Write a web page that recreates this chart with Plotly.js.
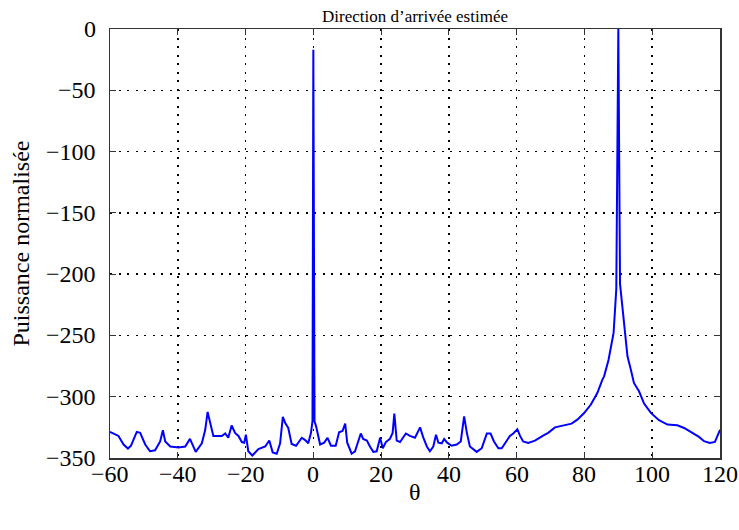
<!DOCTYPE html>
<html>
<head>
<meta charset="utf-8">
<script src="https://cdn.plot.ly/plotly-3.0.1.min.js"></script>
<style>
html,body{margin:0;padding:0;background:#fff;}
#chart{width:739px;height:530px;}
</style>
</head>
<body>
<div id="chart"></div>
<script>
// Angle (degrees)
const theta = [
  -60, -57.5, -56.0, -54.7, -53.8, -52.1, -51.1, -49.6, -48.2, -46.7,
  -45.2, -44.4, -43.7, -42.2, -39.8, -37.8, -36.4, -34.7, -32.9, -31.9,
  -31.2, -30.5, -29.5, -27.0, -26.0, -25.1, -24.1, -23.1, -22.1, -21.1,
  -20.4, -19.9, -19.2, -18.0, -16.2, -14.2, -13.0, -12.0, -10.8, -9.8,
  -9.0, -8.3, -7.4, -6.4, -5.1, -3.4, -2.4, -1.5, -0.7, -0.25,
  0, 0.35, 0.8, 2.0, 3.2, 4.2, 5.2, 6.6, 7.6, 8.6,
  9.4, 10.0, 11.3, 12.3, 13.1, 14.0, 14.7, 15.8, 16.7, 17.7,
  18.7, 19.7, 20.5, 21.4, 22.6, 23.4, 23.9, 24.6, 25.6, 27.3,
  28.5, 30.0, 31.5, 32.4, 33.5, 34.4, 35.4, 36.2, 36.9, 37.9,
  38.6, 39.5, 40.8, 42.3, 43.5, 44.5, 45.3, 46.2, 48.2, 49.7,
  51.2, 52.3, 53.3, 54.6, 55.6, 56.8, 58.0, 59.0, 60.2, 61.0,
  61.9, 63.4, 65.4, 67.8, 69.3, 71.3, 73.7, 76.2, 77.9, 79.9,
  81.9, 83.8, 85.3, 85.8, 87.1, 88.6, 89.4, 90, 90.5, 91.4,
  92.0, 92.7, 93.7, 94.6, 96.1, 97.6, 99.6, 102.0, 104.5, 107.4,
  109.4, 111.4, 113.8, 115.3, 117.0, 118.5, 119.5, 120
];
// Normalised power (dB)
const puissance = [
  -328.7, -332, -339, -342.3, -340, -328.7, -329.5, -339, -344.5, -343.7,
  -336.5, -327.4, -336.5, -340.6, -341.4, -340.6, -334.4, -345, -338, -327,
  -312.4, -320, -332, -332, -330, -333.5, -323.5, -329.5, -332, -337,
  -337.5, -331, -344.5, -348, -342.8, -340.6, -335.7, -345.4, -346.5, -338,
  -316.5, -321.4, -325.5, -338.6, -340, -333.5, -335.4, -338, -329.5, -320,
  -17, -320, -324, -339, -337.5, -333.5, -340, -340, -329, -328,
  -322, -337.5, -346.5, -344.5, -337.5, -330, -334.5, -335.7, -340.6, -345,
  -344.5, -333.5, -342, -337, -334.4, -329.5, -313.8, -335.7, -337, -330,
  -332, -333.5, -325, -333, -340.6, -344.5, -340.6, -331, -337.5, -338,
  -334.5, -337.5, -340, -339, -336.5, -316, -329.5, -340.6, -345, -342,
  -330, -330, -336.5, -342, -342, -337.5, -332, -330, -326.5, -332,
  -336.5, -337.7, -335.8, -331.7, -329.5, -325, -323.3, -322, -318.7, -313.3,
  -306.4, -297, -286, -283.4, -270, -248, -212, 0, -208, -234.5,
  -250.8, -267, -278, -288.8, -295.6, -305.6, -313.2, -319.2, -322.7, -323.3,
  -325.5, -329, -332.8, -336.3, -337.7, -336.9, -331, -327
];
const xTicks = [-60, -40, -20, 0, 20, 40, 60, 80, 100, 120];
const yTicks = [-350, -300, -250, -200, -150, -100, -50, 0];
const titleText = "Direction d\u2019arrivée estimée";
const xTitle = "θ";
const yTitle = "Puissance normalisée";

const serif = "'Liberation Serif', 'Times New Roman', serif";
const tickFont = {family: serif, size: 24, color: '#000'};
const fmt = v => (v < 0 ? '\u2212' + Math.abs(v) : String(v));

const axisCommon = {
  showgrid: true,
  gridcolor: '#000',
  gridwidth: 1.5,
  griddash: '2px,6.5px',
  zeroline: false,
  showline: true,
  linecolor: '#333',
  linewidth: 1.5,
  mirror: 'ticks',
  ticks: 'inside',
  ticklen: 6,
  tickwidth: 1.2,
  tickcolor: '#333',
  showticklabels: false,
  automargin: false
};

const trace = {
  x: theta,
  y: puissance,
  type: 'scatter',
  mode: 'lines',
  line: {color: '#0000ff', width: 2},
  cliponaxis: true,
  showlegend: false
};

// tick labels placed with the axes' own scales, closer to the axis lines as in the reference
const xLabelAnn = xTicks.map(v => ({
  text: fmt(v), xref: 'x', yref: 'paper', x: v, y: 0,
  xanchor: 'center', yanchor: 'middle', yshift: -16, showarrow: false, font: tickFont
}));
const yLabelAnn = yTicks.map(v => ({
  text: fmt(v), xref: 'paper', yref: 'y', x: 0, y: v,
  xanchor: 'right', yanchor: 'middle', xshift: -12, showarrow: false, font: tickFont
}));

const layout = {
  width: 739,
  height: 530,
  paper_bgcolor: '#fff',
  plot_bgcolor: '#fff',
  margin: {l: 110, r: 19, t: 29, b: 72},
  title: {
    text: titleText,
    font: {family: serif, size: 17, color: '#000'},
    x: 0.5, xref: 'paper', xanchor: 'center',
    y: 1 - 16/530, yref: 'container', yanchor: 'middle'
  },
  xaxis: Object.assign({}, axisCommon, {
    range: [-60, 120],
    tickvals: xTicks
  }),
  yaxis: Object.assign({}, axisCommon, {
    range: [-350, 0],
    tickvals: yTicks
  }),
  annotations: xLabelAnn.concat(yLabelAnn, [
    {
      text: xTitle, xref: 'paper', yref: 'paper', x: 0.5, y: 0,
      xanchor: 'center', yanchor: 'middle', yshift: -34, showarrow: false,
      font: {family: serif, size: 24, color: '#000'}
    },
    {
      text: yTitle, xref: 'paper', yref: 'paper', x: 0, y: 0.5,
      xanchor: 'center', yanchor: 'middle', xshift: -90, textangle: -90, showarrow: false,
      font: {family: serif, size: 24, color: '#000'}
    }
  ])
};

Plotly.newPlot('chart', [trace], layout, {staticPlot: true, displayModeBar: false});
</script>
</body>
</html>
